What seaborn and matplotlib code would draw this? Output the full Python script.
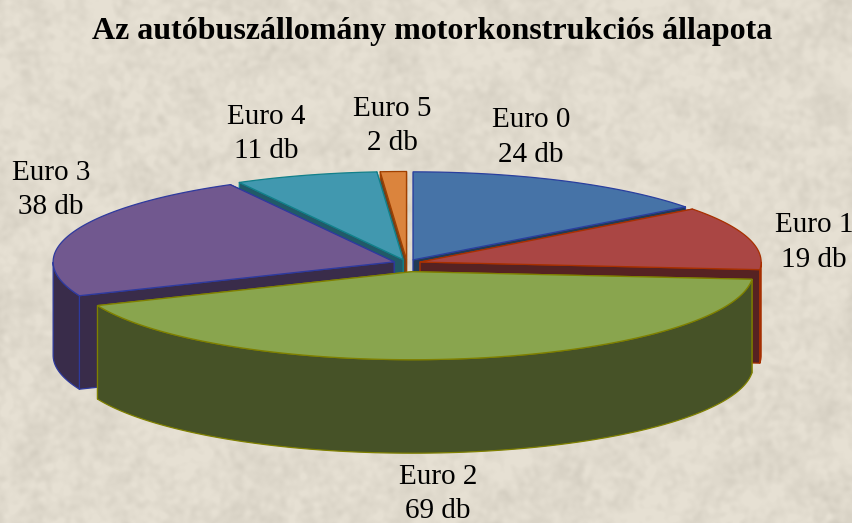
import numpy as np
import matplotlib
matplotlib.use("Agg")
import matplotlib.pyplot as plt
import seaborn as sns
from matplotlib.patches import Polygon

categories = ["Euro 0", "Euro 1", "Euro 2", "Euro 3", "Euro 4", "Euro 5"]
counts = [24, 19, 69, 38, 11, 2]
title = "Az autóbuszállomány motorkonstrukciós állapota"

top_colors = ["#4673A7", "#AA4644", "#89A54E", "#71588F", "#4198AF", "#DB843D"]
wall_colors = ["#233A54", "#562222", "#465227", "#392C4A", "#215A68", "#6E421E"]
edge_colors = ["#2A3F9E", "#A83000", "#7F8000", "#2E3A9E", "#12808A", "#A04000"]
explode = [0.04, 0.04, 0.10, 0.04, 0.04, 0.04]
label_xy = [(531, 137.5), (814, 242.5), (438, 494), (51, 190), (266, 134), (392, 126)]
draw_order = [5, 4, 0, 3, 1, 2]

CX, CY = 407, 263
RX, RY = 341, 88
DEPTH = 93.5

sns.set_theme(style="white")
plt.rcParams["font.family"] = ["Liberation Serif", "DejaVu Serif"]


def marble(h, w):
    """Beige speckled paper behind the chart."""
    rng = np.random.default_rng(7)
    fy = np.fft.fftfreq(h)[:, None]
    fx = np.fft.rfftfreq(w)[None, :]
    radius = np.hypot(fx, fy)
    noise = rng.normal(size=(h, w))
    fine = np.fft.irfft2(np.fft.rfft2(noise) * np.exp(-(radius / 0.09) ** 2), s=(h, w))
    broad = np.fft.irfft2(np.fft.rfft2(noise[::-1]) * np.exp(-(radius / 0.02) ** 2), s=(h, w))
    shade = 2.8 * fine / fine.std() + 2.0 * broad / broad.std()
    shade = np.minimum(shade, 5)
    base = np.array([225, 219, 206], dtype=float)
    return np.clip(base[None, None, :] + shade[:, :, None], 0, 255).astype(np.uint8)


def rim(t, x0, y0):
    return np.column_stack([x0 + RX * np.sin(t), y0 - RY * np.cos(t)])


def draw_slice(ax, start, stop, off, top, wall, edge):
    x0 = CX + off * RX * np.sin((start + stop) / 2)
    y0 = CY - off * RY * np.cos((start + stop) / 2)
    t = np.linspace(start, stop, 200)
    arc = rim(t, x0, y0)
    style = dict(edgecolor=edge, linewidth=0.9, joinstyle="round")

    # cut faces first (the one further back goes under), then outer wall, top last
    for end in sorted((arc[0], arc[-1]), key=lambda p: p[1]):
        quad = [(x0, y0), end, end + [0, DEPTH], (x0, y0 + DEPTH)]
        ax.add_patch(Polygon(quad, closed=True, facecolor=wall, **style))
    front = np.cos(t) < 0
    if front.any():
        outer = arc[front]
        ax.add_patch(Polygon(np.vstack([outer, outer[::-1] + [0, DEPTH]]),
                             closed=True, facecolor=wall, **style))
    ax.add_patch(Polygon(np.vstack([[x0, y0], arc]), closed=True, facecolor=top, **style))


fig = plt.figure(figsize=(8.52, 5.23), dpi=100)
ax = fig.add_axes([0, 0, 1, 1])
ax.imshow(marble(523, 852), extent=(0, 852, 523, 0), aspect="auto", zorder=0)
ax.set_xlim(0, 852)
ax.set_ylim(523, 0)
ax.axis("off")

edges = 2 * np.pi * np.concatenate([[0], np.cumsum(counts)]) / np.sum(counts)
for i in draw_order:
    draw_slice(ax, edges[i], edges[i + 1], explode[i], top_colors[i], wall_colors[i], edge_colors[i])

for name, count, (x, y) in zip(categories, counts, label_xy):
    ax.text(x, y, f"{name}\n{count} db", ha="center", va="center", fontsize=21,
            color="black", linespacing=1.45)
ax.text(432, 31, title, ha="center", va="center", fontsize=23, fontweight="bold", color="black")

fig.savefig("out.png", dpi=100)
